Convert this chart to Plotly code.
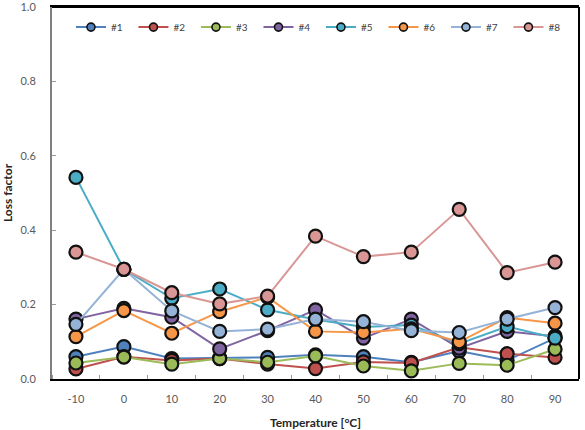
import plotly.graph_objects as go

temperature = [-10, 0, 10, 20, 30, 40, 50, 60, 70, 80, 90]
temp_labels = ["-10", "0", "10", "20", "30", "40", "50", "60", "70", "80", "90"]
series_names = ["#1", "#2", "#3", "#4", "#5", "#6", "#7", "#8"]
s1 = [0.060, 0.087, 0.055, 0.057, 0.058, 0.065, 0.060, 0.045, 0.075, 0.050, 0.110]
s2 = [0.027, 0.060, 0.050, 0.055, 0.040, 0.028, 0.046, 0.043, 0.085, 0.068, 0.058]
s3 = [0.043, 0.059, 0.040, 0.055, 0.045, 0.062, 0.035, 0.022, 0.042, 0.037, 0.080]
s4 = [0.161, 0.190, 0.166, 0.081, 0.130, 0.186, 0.110, 0.161, 0.083, 0.128, 0.115]
s5 = [0.542, 0.295, 0.217, 0.242, 0.186, 0.160, 0.140, 0.145, 0.095, 0.141, 0.110]
s6 = [0.114, 0.184, 0.123, 0.181, 0.220, 0.128, 0.125, 0.135, 0.100, 0.165, 0.150]
s7 = [0.147, 0.295, 0.183, 0.128, 0.134, 0.161, 0.154, 0.130, 0.125, 0.161, 0.192]
s8 = [0.341, 0.295, 0.232, 0.202, 0.223, 0.384, 0.329, 0.341, 0.456, 0.286, 0.314]
all_series = [s1, s2, s3, s4, s5, s6, s7, s8]
colors = ["#4F81BD", "#C0504D", "#9BBB59", "#8064A2", "#4BACC6", "#F79646", "#95B3D7", "#D99694"]
y_ticks = [0.0, 0.2, 0.4, 0.6, 0.8, 1.0]

FONT = "Lato, 'Open Sans', sans-serif"
fig = go.Figure()
for name, vals, c in zip(series_names, all_series, colors):
    fig.add_trace(go.Scatter(
        x=temperature, y=vals, mode="lines+markers", name=name, showlegend=False,
        line=dict(color=c, width=2),
        marker=dict(size=13, color=c, line=dict(color="#111111", width=2.2)),
    ))
# legend entries with small markers
for name, c in zip(series_names, colors):
    fig.add_trace(go.Scatter(
        x=[None], y=[None], mode="lines+markers", name=name,
        line=dict(color=c, width=2),
        marker=dict(size=8, color=c, line=dict(color="#111111", width=1.6)),
    ))

fig.update_layout(
    width=585, height=430,
    margin=dict(l=52, r=6, t=7, b=51),
    paper_bgcolor="white", plot_bgcolor="white",
    font=dict(family=FONT, size=11, color="#595959"),
    legend=dict(orientation="h", x=0.036, y=0.946, xanchor="left", yanchor="middle",
                entrywidth=17.5, entrywidthmode="pixels", tracegroupgap=0,
                font=dict(size=10, color="#404040"), bgcolor="rgba(0,0,0,0)"),
    xaxis=dict(range=[-15, 95], tickvals=temperature, ticktext=temp_labels, ticks="",
               showgrid=False, zeroline=False, automargin=False,
               showline=True, linecolor="black", linewidth=2, mirror=True,
               ticklabelstandoff=9,
               minor=dict(tick0=-15, dtick=10, ticks="inside", ticklen=4, tickcolor="#999", showgrid=False),
               title=dict(text="<b>Temperature [°C]</b>", font=dict(size=12, color="#262626"), standoff=19)),
    yaxis=dict(range=[0, 1], tickvals=y_ticks, tickformat=".1f", ticks="inside", ticklen=4, tickcolor="#999",
               showgrid=False, zeroline=False, showline=True, linecolor="#808080", linewidth=2,
               ticklabelstandoff=12, automargin=False, ticklabeloverflow="allow",
               title=dict(text="<b>Loss factor</b>", font=dict(size=12, color="#262626"), standoff=6)),
)
fig.add_shape(type="line", xref="paper", yref="paper", x0=1, x1=1, y0=0, y1=1,
              line=dict(color="black", width=2))
fig.add_shape(type="line", xref="paper", yref="paper", x0=0, x1=1, y0=1, y1=1,
              line=dict(color="black", width=2))
fig.write_html("out.html")
